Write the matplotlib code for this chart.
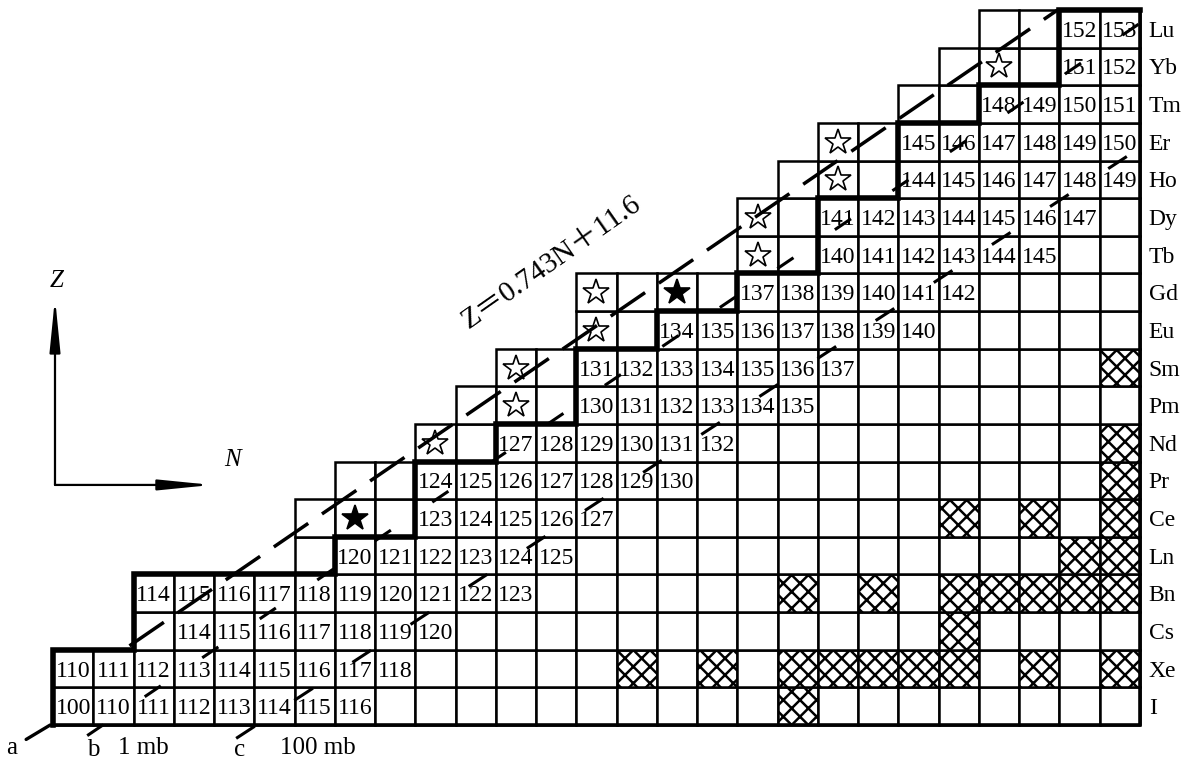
import matplotlib
matplotlib.use("Agg")
import matplotlib.pyplot as plt
from matplotlib.patches import Rectangle

plt.rcParams['font.family'] = ['Liberation Serif', 'Noto Sans CJK SC', 'DejaVu Sans']
plt.rcParams['hatch.linewidth'] = 1.8
plt.rcParams['lines.scale_dashes'] = False

# one row per element, bottom (Z=53) to top (Z=71)
elements = ['I', 'Xe', 'Cs', 'Bn', 'Ln', 'Ce', 'Pr', 'Nd', 'Pm', 'Sm',
            'Eu', 'Gd', 'Tb', 'Dy', 'Ho', 'Er', 'Tm', 'Yb', 'Lu']
z_values = [53, 54, 55, 56, 57, 58, 59, 60, 61, 62,
            63, 64, 65, 66, 67, 68, 69, 70, 71]
# first neutron number drawn in each row, all rows end at N_LAST
row_first_n = [56, 56, 58, 58, 62, 62, 63, 65, 66, 67,
               69, 69, 73, 73, 74, 75, 77, 78, 79]
N_LAST = 82

# mass numbers written in the cells, starting at label_first_n
label_first_n = [56, 56, 59, 58, 63, 65, 65, 67, 69, 69,
                 71, 73, 75, 75, 77, 77, 79, 81, 81]
mass_numbers = [
    [100, 110, 111, 112, 113, 114, 115, 116],
    [110, 111, 112, 113, 114, 115, 116, 117, 118],
    [114, 115, 116, 117, 118, 119, 120],
    [114, 115, 116, 117, 118, 119, 120, 121, 122, 123],
    [120, 121, 122, 123, 124, 125],
    [123, 124, 125, 126, 127],
    [124, 125, 126, 127, 128, 129, 130],
    [127, 128, 129, 130, 131, 132],
    [130, 131, 132, 133, 134, 135],
    [131, 132, 133, 134, 135, 136, 137],
    [134, 135, 136, 137, 138, 139, 140],
    [137, 138, 139, 140, 141, 142],
    [140, 141, 142, 143, 144, 145],
    [141, 142, 143, 144, 145, 146, 147],
    [144, 145, 146, 147, 148, 149],
    [145, 146, 147, 148, 149, 150],
    [148, 149, 150, 151],
    [151, 152],
    [152, 153],
]

# curve a: left edge of the known region
boundary_n = [56, 56, 58, 58, 63, 65, 65, 67, 69, 69,
              71, 73, 75, 75, 77, 77, 79, 81, 81]

open_star_n = [65, 67, 67, 69, 69, 73, 73, 75, 75, 79]
open_star_z = [60, 61, 62, 63, 64, 65, 66, 67, 68, 70]
filled_star_n = [63, 71]
filled_star_z = [58, 64]

hatched_cells = {
    53: [74],
    54: [70, 72, 74, 75, 76, 77, 78, 80, 82],
    55: [78],
    56: [74, 76, 78, 79, 80, 81, 82],
    57: [81, 82],
    58: [78, 80, 82],
    59: [82],
    60: [82],
    62: [82],
}

# straight lines Z = k*N + b as drawn on the chart, with their N range
fit_k, fit_b, fit_n = 0.733, 12.53, (57.4, 80.45)
mb1_k, mb1_b, mb1_n = 0.724, 11.42, (56.35, 82.9)
mb100_k, mb100_b, mb100_n = 0.699, 10.17, (60.05, 82.8)

fig = plt.figure(figsize=(11.9, 7.64), dpi=100)
ax = fig.add_axes([0, 0, 1, 1])
ax.set_xlim(54.184, 83.742)
ax.set_ylim(51.464, 71.767)
ax.axis('off')

for z, n0 in zip(z_values, row_first_n):
    for n in range(n0, N_LAST + 1):
        hatch = 'xx' if n in hatched_cells.get(z, []) else None
        ax.add_patch(Rectangle((n - 0.5, z - 0.5), 1, 1, facecolor='white',
                               edgecolor='black', lw=1.8, hatch=hatch, zorder=1))

# outer border, bottom and right
ax.plot([row_first_n[0] - 0.5, N_LAST + 0.5, N_LAST + 0.5],
        [z_values[0] - 0.5, z_values[0] - 0.5, z_values[-1] + 0.5],
        color='black', lw=2.6, zorder=2, solid_capstyle='projecting')

# staircase a
sx = [boundary_n[0] - 0.5]
sy = [z_values[0] - 0.5]
for i, (z, b) in enumerate(zip(z_values, boundary_n)):
    nxt = boundary_n[i + 1] - 0.5 if i + 1 < len(boundary_n) else N_LAST + 0.5
    sx += [b - 0.5, nxt]
    sy += [z + 0.5, z + 0.5]
ax.plot(sx, sy, color='black', lw=4, zorder=3, solid_capstyle='projecting',
        solid_joinstyle='miter')

for z, n0, masses in zip(z_values, label_first_n, mass_numbers):
    for i, a in enumerate(masses):
        ax.text(n0 + i, z, str(a), ha='center', va='center_baseline',
                fontsize=17, zorder=5)

ax.plot(open_star_n, open_star_z, ls='none', marker='*', ms=19,
        mfc='white', mec='black', mew=1.2, zorder=4)
ax.plot(filled_star_n, filled_star_z, ls='none', marker='*', ms=19,
        mfc='black', mec='black', mew=1.2, zorder=4)

for k, b, (n1, n2), dash, lw in [(fit_k, fit_b, fit_n, (30, 12), 2.5),
                                 (mb1_k, mb1_b, mb1_n, (14, 36), 2.2),
                                 (mb100_k, mb100_b, mb100_n, (16, 34), 2.2)]:
    ax.plot([n1, n2], [k * n1 + b, k * n2 + b], color='black', lw=lw,
            dashes=dash, zorder=6, clip_on=False)

for z, el in zip(z_values, elements):
    ax.text(82.72, z, el, ha='left', va='center_baseline', fontsize=17)

ax.text(67.89, 64.8, 'Z＝0.743N＋11.6', rotation=35, rotation_mode='anchor',
        ha='center', va='center', fontsize=21)

# Z / N direction arrows
arrow = dict(arrowstyle='-|>,head_length=3.2,head_width=0.32', lw=1.6,
             color='black', shrinkA=0, shrinkB=0)
ax.annotate('', xy=(55.55, 63.85), xytext=(55.55, 58.88), arrowprops=arrow)
ax.annotate('', xy=(59.45, 58.88), xytext=(55.55, 58.88), arrowprops=arrow)
ax.text(55.6, 64.3, 'Z', style='italic', ha='center', va='center', fontsize=18)
ax.text(59.95, 59.54, 'N', style='italic', ha='center', va='center', fontsize=18)

# legend for the curves
ax.annotate('a', xy=(55.43, 52.5), xytext=(54.48, 51.89), ha='center',
            va='center', fontsize=18,
            arrowprops=dict(arrowstyle='-', lw=2.4, shrinkA=5, shrinkB=0))
ax.text(56.49, 51.84, 'b', ha='center', va='center', fontsize=18)
ax.text(57.11, 51.89, '1 mb', ha='left', va='center', fontsize=18)
ax.text(60.14, 51.84, 'c', ha='center', va='center', fontsize=18)
ax.text(61.14, 51.89, '100 mb', ha='left', va='center', fontsize=18)

fig.savefig('out.png', dpi=100, facecolor='white')
